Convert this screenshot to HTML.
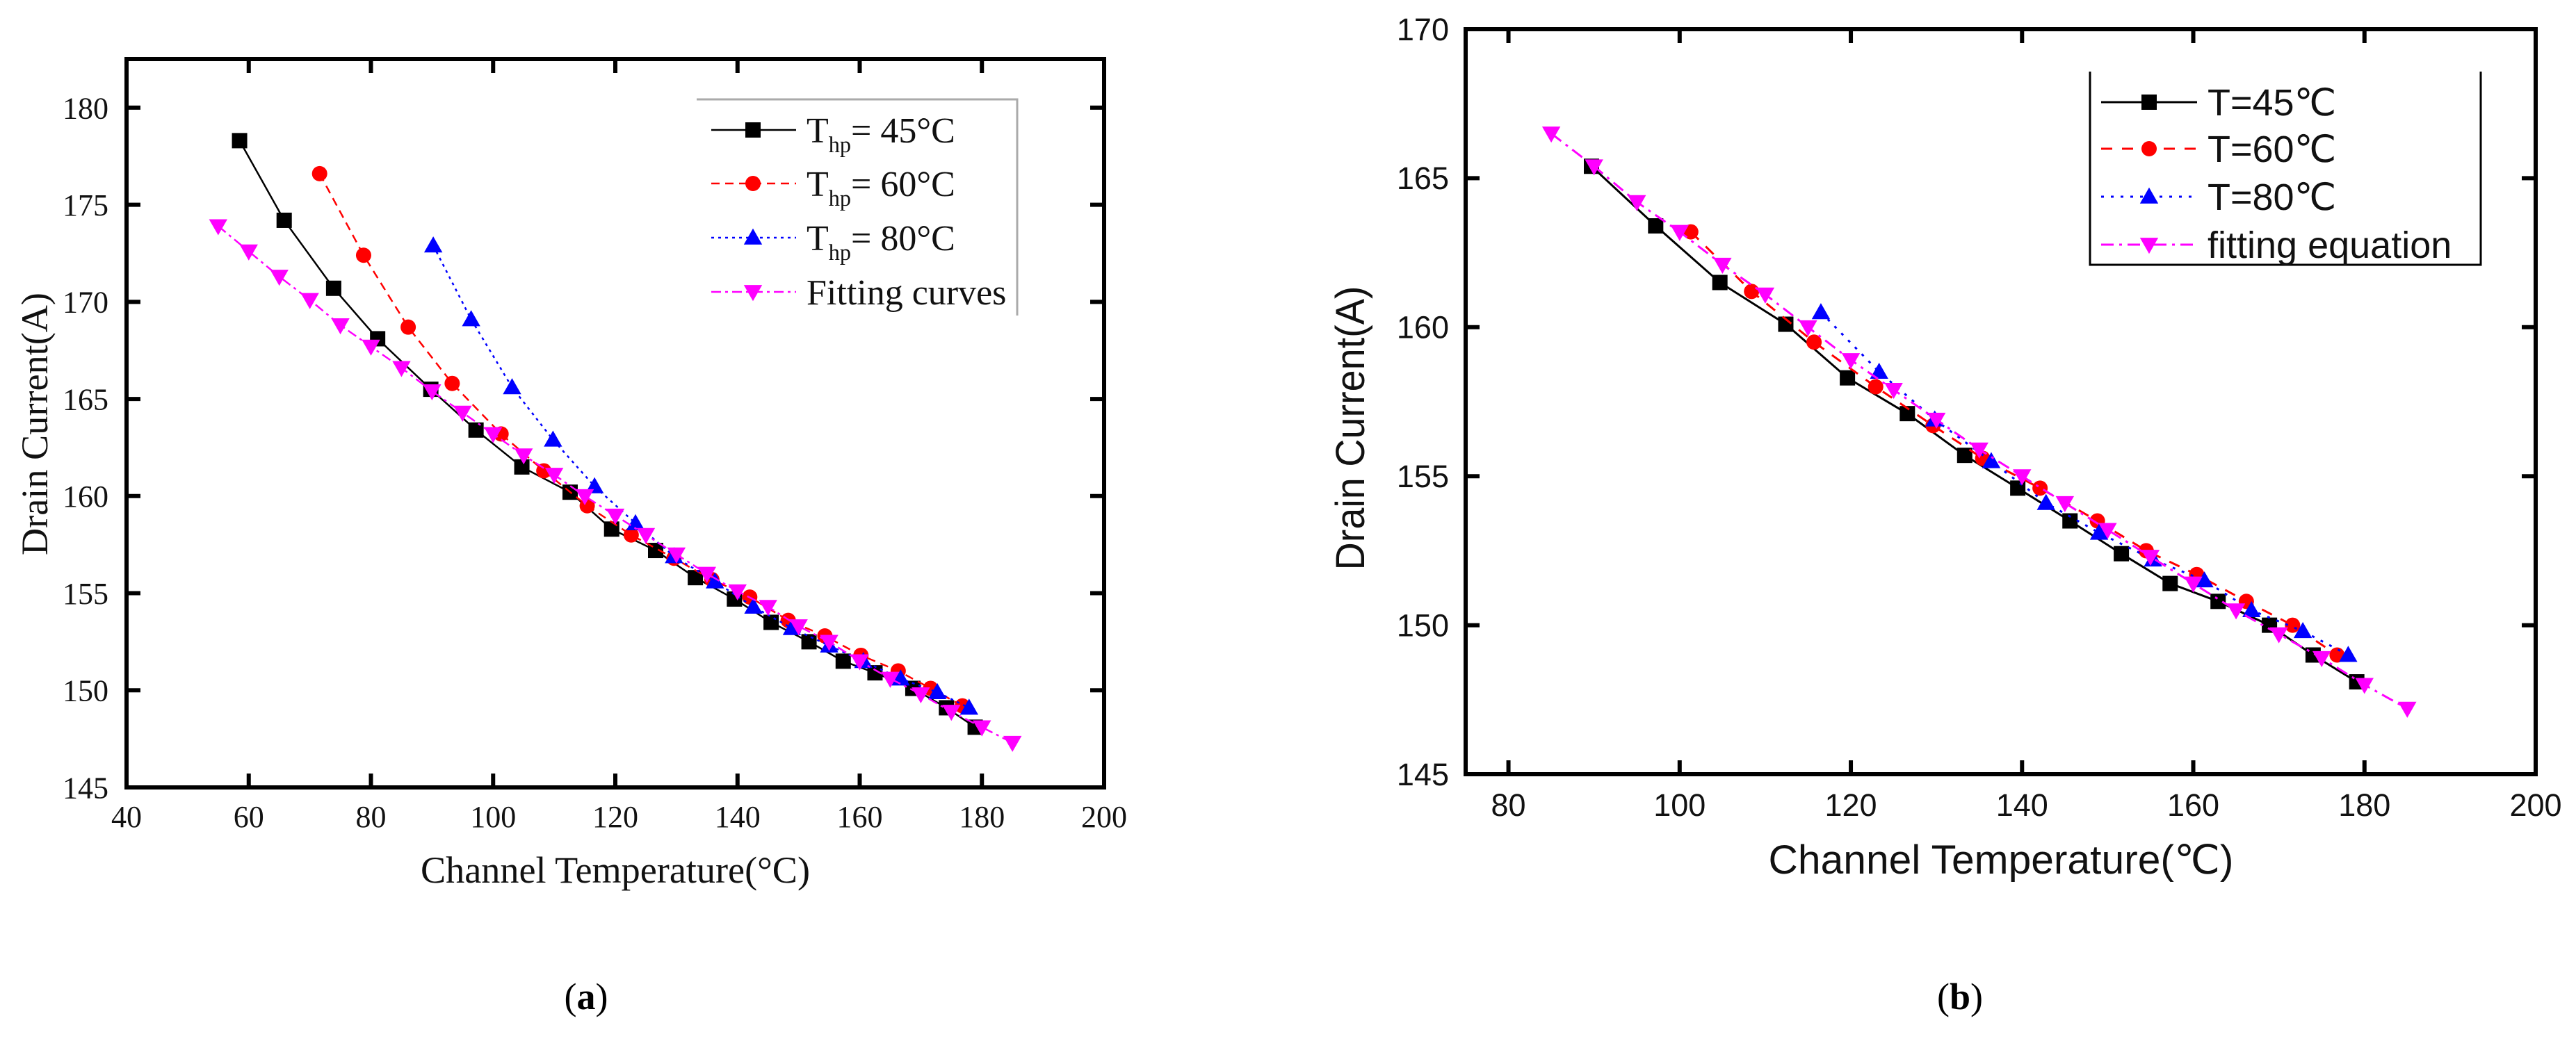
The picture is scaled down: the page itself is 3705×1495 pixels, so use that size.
<!DOCTYPE html>
<html><head><meta charset="utf-8">
<style>
html,body{margin:0;padding:0;background:#fff;}
svg{display:block;}
.ser{font-family:"Liberation Serif","DejaVu Serif",serif;}
.san{font-family:"Liberation Sans","DejaVu Sans",sans-serif;}
</style></head>
<body>
<svg id="fig" width="3705" height="1495" viewBox="0 0 3705 1495" xmlns="http://www.w3.org/2000/svg">
<g id="pa"></g>
<g id="pb"></g>
</svg>
<script>
// ---------- Panel (a) data ----------
const aXTicks = [40,60,80,100,120,140,160,180,200];
const aYTicks = [145,150,155,160,165,170,175,180];
const a45x = [58.5,65.8,73.9,81.1,89.8,97.2,104.7,112.6,119.4,126.6,133.1,139.5,145.5,151.7,157.3,162.5,168.7,174.2,178.9];
const a45y = [178.3,174.2,170.7,168.1,165.5,163.4,161.5,160.2,158.3,157.2,155.8,154.7,153.5,152.5,151.5,150.9,150.1,149.1,148.1];
const a60x = [71.6,78.8,86.1,93.3,101.3,108.3,115.4,122.6,129.6,135.8,142.0,148.3,154.3,160.2,166.3,171.6,176.8];
const a60y = [176.6,172.4,168.7,165.8,163.2,161.3,159.5,158.0,156.8,155.7,154.8,153.6,152.8,151.8,151.0,150.1,149.2];
const a80x = [90.2,96.4,103.1,109.8,116.6,123.3,129.6,136.3,142.6,148.9,155.0,160.6,166.7,172.7,177.9];
const a80y = [172.9,169.1,165.6,162.9,160.5,158.6,156.9,155.6,154.3,153.2,152.3,151.5,150.6,149.9,149.1];
const aFitx = [55,60,65,70,75,80,85,90,95,100,105,110,115,120,125,130,135,140,145,150,155,160,165,170,175,180,185];
const aFity = [173.9,172.6,171.3,170.1,168.8,167.7,166.6,165.4,164.3,163.2,162.1,161.1,160.0,159.0,158.0,157.0,156.0,155.1,154.3,153.3,152.5,151.5,150.6,149.8,148.9,148.1,147.3];
// ---------- Panel (b) data ----------
const bXTicks = [80,100,120,140,160,180,200];
const bYTicks = [145,150,155,160,165,170];
const b45x = [89.7,97.2,104.7,112.4,119.6,126.6,133.3,139.5,145.6,151.6,157.3,162.9,168.9,174.0,179.1];
const b45y = [165.4,163.4,161.5,160.1,158.3,157.1,155.7,154.6,153.5,152.4,151.4,150.8,150.0,149.0,148.1];
const b60x = [101.3,108.4,115.7,122.9,129.6,135.4,142.1,148.8,154.5,160.4,166.2,171.6,176.8];
const b60y = [163.2,161.2,159.5,158.0,156.7,155.6,154.6,153.5,152.5,151.7,150.8,150.0,149.0];
const b80x = [116.5,123.3,129.8,136.4,142.8,149.0,155.3,161.3,166.8,172.8,178.1];
const b80y = [160.5,158.5,156.9,155.5,154.1,153.1,152.2,151.5,150.5,149.8,149.0];
const bFitx = [85,90,95,100,105,110,115,120,125,130,135,140,145,150,155,160,165,170,175,180,185];
const bFity = [166.5,165.4,164.2,163.2,162.1,161.1,160.0,158.9,157.9,156.9,155.9,155.0,154.1,153.2,152.3,151.4,150.5,149.7,148.9,148.0,147.2];

const NS='http://www.w3.org/2000/svg';
function mk(tag, parent, attrs){
  const e=document.createElementNS(NS,tag);
  for(const k in attrs) e.setAttribute(k,attrs[k]);
  parent.appendChild(e); return e;
}
function marker(g, type, x, y, s, color){
  let e;
  if(type==='sq'){ e=mk('rect',g,{x:x-s/2,y:y-s/2,width:s,height:s,fill:color}); }
  else if(type==='ci'){ e=mk('circle',g,{cx:x,cy:y,r:s/2,fill:color}); }
  else if(type==='up'){ e=mk('polygon',g,{points:`${x},${y-s*0.6} ${x-s*0.6},${y+s*0.45} ${x+s*0.6},${y+s*0.45}`,fill:color}); }
  else { e=mk('polygon',g,{points:`${x},${y+s*0.6} ${x-s*0.6},${y-s*0.45} ${x+s*0.6},${y-s*0.45}`,fill:color}); }
  return e;
}
function panel(root, cfg){
  const sx=v=>cfg.L+(v-cfg.x0)/(cfg.x1-cfg.x0)*(cfg.R-cfg.L);
  const sy=v=>cfg.B-(v-cfg.y0)/(cfg.y1-cfg.y0)*(cfg.B-cfg.T);
  const cls=cfg.font;
  cfg.xt.forEach(t=>{
    const x=sx(t);
    const tk=mk('path',root,{d:`M${x},${cfg.B}v-20M${x},${cfg.T}v20`,stroke:'#000','stroke-width':6});
    
    
    const lb=mk('text',root,{x:x,y:cfg.xly,'text-anchor':'middle','font-size':cfg.fs,class:cls,fill:'#111'});
    lb.textContent=t;
    
    
  });
  cfg.yt.forEach(t=>{
    const y=sy(t);
    const tk=mk('path',root,{d:`M${cfg.L},${y}h20M${cfg.R},${y}h-20`,stroke:'#000','stroke-width':6});
    
    
    const lb=mk('text',root,{x:cfg.ylx,y:y+cfg.fs*0.35,'text-anchor':'end','font-size':cfg.fs,class:cls,fill:'#111'});
    lb.textContent=t;
    
    
  });
  const fr=mk('rect',root,{x:cfg.L,y:cfg.T,width:cfg.R-cfg.L,height:cfg.B-cfg.T,fill:'none',stroke:'#000','stroke-width':6});
  
  
  cfg.series.forEach(s=>{
    const g=mk('g',root,{});
    
    
    const pts=s.xs.map((v,i)=>sx(v)+','+sy(s.ys[i])).join(' ');
    const ln=mk('polyline',g,{points:pts,fill:'none',stroke:s.color,'stroke-width':s.w,'stroke-dasharray':s.dash});
    
    
    s.xs.forEach((v,i)=>{
      const m=marker(g,s.mk,sx(v),sy(s.ys[i]),22,s.color);
      
      
    });
  });
  const lg=mk('g',root,{});
  
  
  const lb=cfg.leg;
  mk('path',lg,{d:lb.box,fill:'none',stroke:lb.bc,'stroke-width':lb.bw});
  cfg.series.forEach((s,i)=>{
    const y=lb.rows[i];
    const en=mk('g',lg,{});
    
    
    mk('line',en,{x1:lb.x1,x2:lb.x2,y1:y,y2:y,stroke:s.color,'stroke-width':s.w,'stroke-dasharray':s.dash});
    marker(en,s.mk,lb.mx,y,22,s.color);
    const t=mk('text',en,{x:lb.tx,y:y+lb.fs*0.35,'font-size':lb.fs,class:cls,fill:'#111'});
    if(s.sub){
      mk('tspan',t,{}).textContent='T';
      const sb=mk('tspan',t,{'font-size':lb.fs*0.62,dy:14});
      sb.textContent='hp';
      const r=mk('tspan',t,{dy:-14});
      r.textContent=s.label;
    } else t.textContent=s.label;
  });
  const xt=mk('text',root,{x:cfg.xtx,y:cfg.xty,'text-anchor':'middle','font-size':cfg.tfs,class:cls,fill:'#111',textLength:cfg.xtl,lengthAdjust:'spacingAndGlyphs'});
  xt.textContent=cfg.xtitle;
  
  
  const yt=mk('text',root,{x:0,y:0,'text-anchor':'middle','font-size':cfg.tfs,class:cls,fill:'#111',textLength:cfg.ytl,lengthAdjust:'spacingAndGlyphs',transform:`translate(${cfg.ytx},${cfg.yty}) rotate(-90)`});
  yt.textContent=cfg.ytitle;
  
  
  const pl=mk('text',root,{x:cfg.plx,y:1452,'text-anchor':'middle','font-size':54,class:'ser',fill:'#000'});
  const b1=mk('tspan',pl,{}); b1.textContent='(';
  const b2=mk('tspan',pl,{'font-weight':'bold'}); b2.textContent=cfg.plabel;
  const b3=mk('tspan',pl,{}); b3.textContent=')';
  
  
}
panel(document.getElementById('pa'),{
  L:182,R:1588,T:85,B:1133,x0:40,x1:200,y0:145,y1:182.5,
  xt:aXTicks,yt:aYTicks,font:'ser',fs:44,xly:1190,ylx:156,
  series:[
    {name:'series-45c',xs:a45x,ys:a45y,color:'#000',mk:'sq',w:2.5,dash:'none',sub:true,label:'= 45°C'},
    {name:'series-60c',xs:a60x,ys:a60y,color:'#ff0000',mk:'ci',w:2.5,dash:'12 8',sub:true,label:'= 60°C'},
    {name:'series-80c',xs:a80x,ys:a80y,color:'#0000ff',mk:'up',w:2.5,dash:'4 6',sub:true,label:'= 80°C'},
    {name:'series-fit',xs:aFitx,ys:aFity,color:'#ff00ff',mk:'dn',w:2.5,dash:'14 6 4 6',label:'Fitting curves'}
  ],
  leg:{box:'M1002,143H1463V454',bc:'#aaa',bw:3,rows:[187,264,342,420],x1:1023,x2:1145,mx:1083,tx:1160,fs:52},
  xtx:885,xty:1270,xtl:560,ytx:68,yty:610,ytl:378,tfs:54,xtitle:'Channel Temperature(°C)',ytitle:'Drain Current(A)',plx:843,plabel:'a'
});
panel(document.getElementById('pb'),{
  L:2108,R:3647,T:42,B:1114,x0:75,x1:200,y0:145,y1:170,
  xt:bXTicks,yt:bYTicks,font:'san',fs:45,xly:1174,ylx:2084,
  series:[
    {name:'series-45c',xs:b45x,ys:b45y,color:'#000',mk:'sq',w:3,dash:'none',label:'T=45℃'},
    {name:'series-60c',xs:b60x,ys:b60y,color:'#ff0000',mk:'ci',w:3,dash:'16 14',label:'T=60℃'},
    {name:'series-80c',xs:b80x,ys:b80y,color:'#0000ff',mk:'up',w:3,dash:'4 10',label:'T=80℃'},
    {name:'series-fit',xs:bFitx,ys:bFity,color:'#ff00ff',mk:'dn',w:3,dash:'18 8 4 8',label:'fitting equation'}
  ],
  leg:{box:'M3006,103V381H3568V103',bc:'#000',bw:3,rows:[147,214,283,352],x1:3022,x2:3160,mx:3091,tx:3175,fs:54},
  xtx:2878,xty:1257,xtl:669,ytx:1962,yty:616,ytl:409,tfs:58,xtitle:'Channel Temperature(℃)',ytitle:'Drain Current(A)',plx:2819,plabel:'b'
});
</script>
</body></html>
